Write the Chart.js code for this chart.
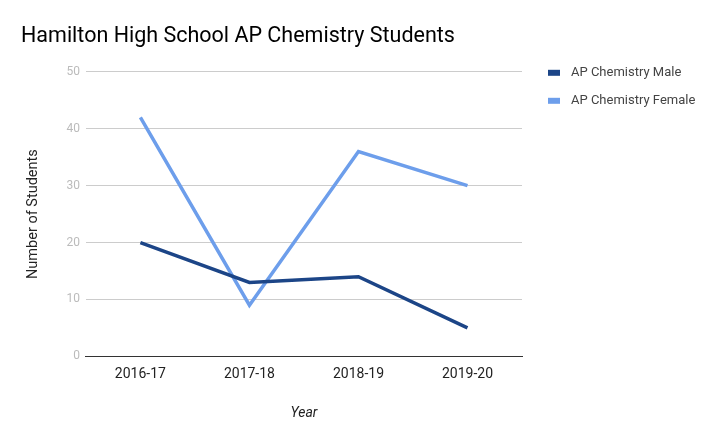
<!DOCTYPE html>
<html><head><meta charset="utf-8">
<script src="https://cdn.jsdelivr.net/npm/chart.js@4"></script>
<style>html,body{margin:0;padding:0;background:#fff}#wrap{width:716px;height:441px}</style>
</head><body><div id="wrap"><canvas id="c" width="716" height="441"></canvas></div>
<script>
const categories = ["2016-17","2017-18","2018-19","2019-20"];
const maleValues = [20,13,14,5];
const femaleValues = [42,9,36,30];
const seriesNames = ["AP Chemistry Male","AP Chemistry Female"];
const yTicks = [0,10,20,30,40,50];

const legendPlugin = {
  id:'customLegend',
  afterDraw(chart){
    const ctx = chart.ctx;
    const x = chart.chartArea.right + 26;
    let y = chart.chartArea.top + 1;
    chart.data.datasets.forEach(ds=>{
      ctx.save();
      ctx.fillStyle = ds.borderColor;
      ctx.fillRect(x, y-3, 12, 6);
      ctx.fillStyle = '#444';
      ctx.font = '13px Roboto';
      ctx.textBaseline = 'middle';
      ctx.textAlign = 'left';
      ctx.fillText(ds.label, x+23, y);
      ctx.restore();
      y += 28;
    });
  }
};

new Chart(document.getElementById('c'), {
  type:'line',
  data:{
    labels: categories,
    datasets:[
      {label:seriesNames[0], data:maleValues, borderColor:'#1c4587', backgroundColor:'#1c4587', borderWidth:3.5, pointRadius:0, tension:0},
      {label:seriesNames[1], data:femaleValues, borderColor:'#6d9eeb', backgroundColor:'#6d9eeb', borderWidth:3.5, pointRadius:0, tension:0}
    ]
  },
  options:{
    responsive:false, animation:false, devicePixelRatio:1,
    layout:{padding:{left:21, right:194, top:0, bottom:15}},
    plugins:{
      legend:{display:false},
      tooltip:{enabled:false},
      title:{display:true, text:'Hamilton High School AP Chemistry Students', align:'start', color:'#000',
        font:{family:'Roboto', size:21.5, weight:'normal'}, padding:{top:24, bottom:22}}
    },
    scales:{
      x:{
        offset:true,
        grid:{display:false, drawTicks:false},
        border:{display:true, color:'#333', width:1},
        ticks:{color:'#222', font:{family:'Roboto', size:14}, padding:10},
        title:{display:true, text:'Year', color:'#222', font:{family:'Roboto', size:14, style:'italic'}, padding:{top:12}}
      },
      y:{
        min:0, max:50,
        afterBuildTicks(scale){ scale.ticks = yTicks.map(v=>({value:v})); },
        grid:{color:'#ccc', drawTicks:false},
        border:{display:false},
        ticks:{color:'#bbb', font:{family:'Roboto', size:12}, padding:6},
        title:{display:true, text:'Number of Students', color:'#222', font:{family:'Roboto', size:14.5}, padding:{bottom:18}}
      }
    }
  },
  plugins:[legendPlugin]
});
</script></body></html>
